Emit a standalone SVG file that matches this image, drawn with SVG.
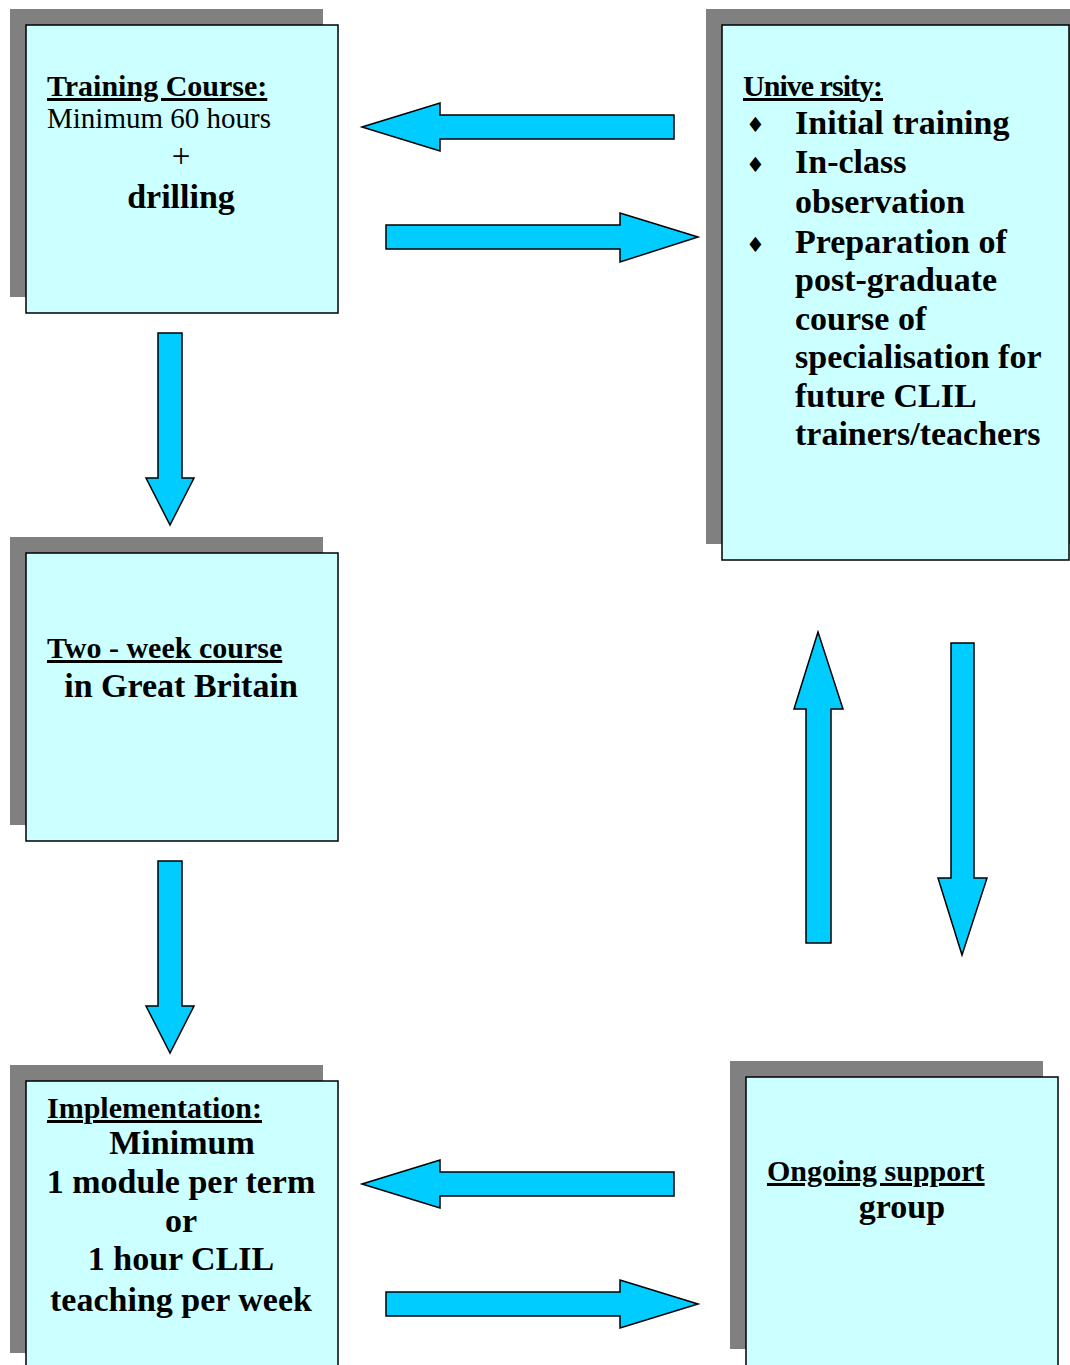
<svg xmlns="http://www.w3.org/2000/svg" width="1070" height="1365" viewBox="0 0 1070 1365">
<style>
.shadow{fill:#808080;stroke:none}
.box{fill:#CCFFFF;stroke:#000;stroke-width:1.5}
.arrow{fill:#00CCFF;stroke:#000;stroke-width:1.5;stroke-linejoin:miter}
text{font-family:"Liberation Serif","Times New Roman",serif;fill:#000}
.h{font-size:30px;font-weight:bold;text-decoration:underline}
.r{font-size:29px}
.b{font-size:34px;font-weight:bold}
.c{text-anchor:middle}
.bul{font-family:"DejaVu Sans",sans-serif;font-size:21px}
</style>
<rect width="1070" height="1365" fill="#fff"/>
<g id="node-training">
<rect class="shadow" x="10" y="9" width="313" height="288"/>
<rect class="box" x="26" y="25" width="312" height="288"/>
<text class="h" x="47" y="96">Training Course:</text>
<text class="r" x="47" y="128">Minimum 60 hours</text>
<text class="r c" x="181" y="167" style="font-size:33px">+</text>
<text class="b c" x="181" y="208">drilling</text>
</g>
<g id="node-university">
<rect class="shadow" x="706" y="9" width="364" height="535"/>
<rect class="box" x="722" y="25" width="347" height="535"/>
<text class="h" x="743" y="96" textLength="140" lengthAdjust="spacing">Unive rsity:</text>
<text class="bul" x="746" y="132">♦</text>
<text class="bul" x="746" y="172">♦</text>
<text class="bul" x="746" y="252">♦</text>
<text class="b" x="795" y="134">Initial training</text>
<text class="b" x="795" y="173">In-class</text>
<text class="b" x="795" y="213">observation</text>
<text class="b" x="795" y="253">Preparation of</text>
<text class="b" x="795" y="291">post-graduate</text>
<text class="b" x="795" y="330">course of</text>
<text class="b" x="795" y="368">specialisation for</text>
<text class="b" x="795" y="407">future CLIL</text>
<text class="b" x="795" y="445">trainers/teachers</text>
</g>
<g id="node-twoweek">
<rect class="shadow" x="10" y="537" width="313" height="288"/>
<rect class="box" x="26" y="553" width="312" height="288"/>
<text class="h" x="47" y="658">Two - week course</text>
<text class="b c" x="181" y="697">in Great Britain</text>
</g>
<g id="node-implementation">
<rect class="shadow" x="10" y="1065" width="313" height="288"/>
<rect class="box" x="26" y="1081" width="312" height="300"/>
<text class="h" x="47" y="1118">Implementation:</text>
<text class="b c" x="182" y="1154">Minimum</text>
<text class="b c" x="181" y="1193">1 module per term</text>
<text class="b c" x="181" y="1232">or</text>
<text class="b c" x="181" y="1270">1 hour CLIL</text>
<text class="b c" x="181" y="1311">teaching per week</text>
</g>
<g id="node-ongoing">
<rect class="shadow" x="730" y="1061" width="313" height="288"/>
<rect class="box" x="746" y="1077" width="312" height="300"/>
<text class="h" x="767" y="1181">Ongoing support</text>
<text class="b c" x="902" y="1218">group</text>
</g>
<g id="connectors">
<polygon class="arrow" points="362,127 440,103 440,115 674,115 674,139 440,139 440,151"/>
<polygon class="arrow" points="698,237 620,213 620,225 386,225 386,249 620,249 620,262"/>
<polygon class="arrow" points="170,525 146,478 158,478 158,333 182,333 182,478 194,478"/>
<polygon class="arrow" points="170,1053 146,1006 158,1006 158,861 182,861 182,1006 194,1006"/>
<polygon class="arrow" points="818,632 843,709 831,709 831,943 806,943 806,709 794,709"/>
<polygon class="arrow" points="962,955 938,878 951,878 951,643 974,643 974,878 987,878"/>
<polygon class="arrow" points="362,1184 440,1160 440,1172 674,1172 674,1196 440,1196 440,1208"/>
<polygon class="arrow" points="698,1304 620,1280 620,1292 386,1292 386,1316 620,1316 620,1328"/>
</g>
</svg>
